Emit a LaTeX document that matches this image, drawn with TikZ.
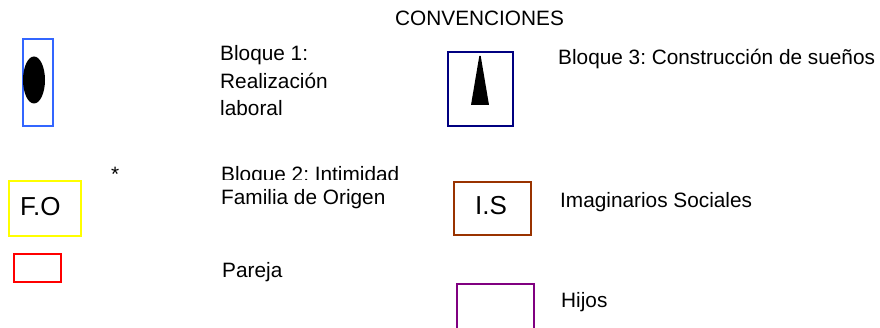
\documentclass[tikz,border=0pt]{standalone}
\usepackage{fontspec}
\setmainfont{Liberation Sans}
\usetikzlibrary{shapes.geometric}
\definecolor{bxblue}{HTML}{3366FF}
\definecolor{bxnavy}{HTML}{000080}
\definecolor{bxyellow}{HTML}{FFFF00}
\definecolor{bxbrown}{HTML}{993300}
\definecolor{bxred}{HTML}{FF0000}
\definecolor{bxpurple}{HTML}{800080}
\frenchspacing
\begin{document}
\begin{tikzpicture}[x=1pt,y=-1pt,
  lbl/.style={anchor=base west, inner sep=0pt, font=\fontsize{20.8}{27.5}\selectfont},
  boxlbl/.style={anchor=base west, inner sep=0pt, font=\fontsize{26}{30}\selectfont},
  box/.style={draw, line width=2pt, inner sep=0pt, anchor=north west}]
\clip (0,0) rectangle (880,328);
% title
\node[lbl] (title) at (395,26) {CONVENCIONES};
% Bloque 1
\node[box, draw=bxblue, minimum width=30, minimum height=87] (b1box) at (22,38) {};
\node[ellipse, fill=black, inner sep=0pt, minimum width=22, minimum height=47] (b1mark) at (34,80) {};
\node[lbl] (b1a) at (220,61) {Bloque 1:};
\node[lbl] (b1b) at (220,88.5) {Realización};
\node[lbl] (b1c) at (220,116) {laboral};
% Bloque 3
\node[box, draw=bxnavy, minimum width=65, minimum height=74] (b3box) at (447,51) {};
\fill (479.3,56) -- (480.7,56) -- (489,105) -- (471,105) -- cycle;
\node[lbl] (b3) at (558,65) {Bloque 3: Construcción de sueños};
% Bloque 2
\node[lbl] (star) at (111,182) {*};
\begin{scope}
  \clip (200,150) rectangle (420,180);
  \node[lbl] (b2) at (221,182) {Bloque 2: Intimidad};
\end{scope}
\node[box, draw=bxyellow, minimum width=72, minimum height=55] (fobox) at (8,180) {};
\node[boxlbl] (fo) at (20,216) {F.O};
\node[lbl] (fol) at (221,205) {Familia de Origen};
\node[box, draw=bxbrown, minimum width=77, minimum height=53] (isbox) at (453,181) {};
\node[boxlbl] (is) at (475,215) {I.S};
\node[lbl] (isl) at (560,208) {Imaginarios Sociales};
\node[box, draw=bxred, minimum width=47, minimum height=28] (pabox) at (13,253) {};
\node[lbl] (pa) at (222,278) {Pareja};
\node[box, draw=bxpurple, minimum width=77, minimum height=60] (hibox) at (456,283) {};
\node[lbl] (hi) at (561,308) {Hijos};
\end{tikzpicture}
\end{document}
